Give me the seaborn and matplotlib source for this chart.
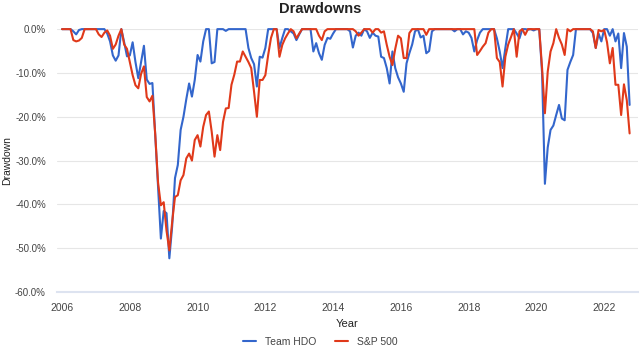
import numpy as np
import pandas as pd
import matplotlib
matplotlib.use("Agg")
import matplotlib.pyplot as plt
import seaborn as sns
from matplotlib.ticker import FuncFormatter

# monthly drawdowns (%), Jan 2006 .. Oct 2022
team_hdo = [
    0, 0, 0, 0, -0.5, -1.2, -0.2, 0, 0, 0, 0, 0,
    0, 0, 0, 0, -1.0, -2.8, -6.0, -7.2, -6.0, 0, -3.0, -6.2,
    -6.0, -3.0, -7.5, -11.2, -7.5, -3.8, -11.5, -12.5, -12.3, -24.0, -36.0, -47.8,
    -41.5, -42.0, -52.3, -45.0, -34.0, -31.0, -23.0, -20.0, -16.0, -12.4, -15.4, -11.6,
    -5.9, -7.4, -2.8, 0, 0, -7.8, -7.5, 0, 0, 0, -0.4, 0,
    0, 0, 0, 0, 0, 0, -4.3, -6.6, -8.0, -13.1, -6.3, -6.5,
    -4.3, 0, 0, 0, 0, -4.3, -2.0, 0, 0, -0.5, -1.0, -2.5,
    -1.2, 0, 0, 0, 0, -5.1, -3.2, -5.5, -7.0, -3.6, -2.0, -2.2,
    -1.0, 0, 0, 0, 0, 0, -0.5, -4.2, -1.5, -0.8, -1.5, 0,
    -0.5, -2.0, -0.8, -1.5, -1.7, -6.3, -6.6, -8.9, -12.4, -5.1, -8.9, -11.0,
    -12.4, -14.3, -7.8, -5.5, -3.5, -0.5, 0, -1.9, -1.5, -5.5, -5.0, -0.5,
    0, 0, 0, 0, 0, 0, 0, -0.5, 0, 0, -1.2, -0.5,
    -0.8, -2.0, -5.1, -2.5, -0.8, 0, 0, 0, 0, 0, -2.1, -5.1,
    -8.9, -4.3, 0, 0, 0, -1.0, -2.1, 0, 0, -0.1, 0, -0.3,
    0, 0, -10.0, -35.3, -27.0, -23.0, -22.0, -19.6, -17.3, -20.4, -20.8, -9.3,
    -7.5, -5.9, 0, 0, 0, 0, 0, 0, -0.9, -4.3, -1.0, -2.8,
    0, 0, -1.5, 0, -2.8, -1.0, -8.9, -0.9, -4.0, -17.3,
]
sp500 = [
    0, 0, 0, 0, -2.5, -2.8, -2.6, -2.0, 0, 0, 0, 0,
    0, -1.2, -1.8, -0.8, -0.3, -1.5, -4.5, -3.5, -1.5, 0, -3.5, -4.5,
    -7.5, -10.5, -12.8, -13.5, -10.2, -8.5, -15.5, -16.5, -15.2, -24.0, -35.0, -40.2,
    -39.5, -46.0, -50.5, -44.0, -38.3, -37.9, -34.5, -33.3, -29.5, -28.4, -30.0, -25.3,
    -24.2, -26.8, -22.3, -19.6, -18.8, -23.4, -29.1, -24.2, -27.6, -21.2, -18.1, -18.0,
    -12.7, -10.4, -7.4, -7.4, -5.1, -6.3, -7.5, -8.9, -14.3, -20.0, -11.6, -11.6,
    -10.5, -5.9, -2.0, 0, 0, -6.3, -3.6, -2.1, -1.0, 0, -0.5, -2.1,
    -1.0, 0, 0, 0, 0, 0, 0, -1.5, -2.5, -0.5, 0, 0,
    0, 0, 0, 0, 0, 0, 0, 0, -0.5, -1.5, -0.8, 0,
    0, 0, -0.8, 0, 0, -0.8, -0.5, -3.6, -6.3, -8.2, -4.5, -1.5,
    -2.1, -6.6, -6.6, -0.9, 0, 0, 0, 0, 0, -1.3, 0, 0,
    0, 0, 0, 0, 0, 0, 0, 0, 0, 0, 0, 0,
    0, 0, 0, -5.9, -5.0, -4.0, -3.2, -0.8, 0, 0, -6.6, -7.5,
    -13.1, -6.3, -3.5, -1.8, 0, -6.3, -0.5, 0, -1.3, 0, 0, 0,
    0, 0, -8.9, -19.2, -9.7, -5.1, -3.2, 0, -2.0, -3.5, -5.9, 0,
    -0.5, 0, 0, 0, 0, 0, 0, 0, -0.5, -4.3, -0.2, -0.5,
    -0.2, -3.0, -7.8, -4.3, -12.7, -12.7, -19.6, -12.6, -16.2, -23.8,
]
series_names = ["Team HDO", "S&P 500"]
colors = ["#3366cc", "#e0391a"]
year_ticks = list(range(2006, 2023, 2))
y_ticks = [0, -10, -20, -30, -40, -50, -60]

years = 2006 + np.arange(len(team_hdo)) / 12.0
df = pd.concat([
    pd.DataFrame({"Year": years, "Drawdown": team_hdo, "series": series_names[0]}),
    pd.DataFrame({"Year": years, "Drawdown": sp500, "series": series_names[1]}),
])

sns.set_style("white")
plt.rcParams["font.family"] = ["Liberation Sans", "DejaVu Sans"]

fig = plt.figure(figsize=(6.4, 3.51), dpi=100)
ax = fig.add_axes([0.089, 0.168, 0.908, 0.749])

sns.lineplot(data=df, x="Year", y="Drawdown", hue="series",
             palette=dict(zip(series_names, colors)), linewidth=1.5,
             ax=ax, legend=False, clip_on=False)

ax.set_xlim(2005.85, 2023.0)
ax.set_ylim(-60, 0)
ax.set_yticks(y_ticks)
ax.set_xticks(year_ticks)
ax.set_xticklabels([str(y) for y in year_ticks])
ax.yaxis.set_major_formatter(FuncFormatter(lambda v, p: f"{v:.1f}%" if v != 0 else "0.0%"))
ax.grid(axis="y", color="#e6e6e6", linewidth=0.8)
ax.set_axisbelow(True)
for s in ["top", "right", "left"]:
    ax.spines[s].set_visible(False)
ax.spines["bottom"].set_color("#dde3f0")
ax.spines["bottom"].set_linewidth(1.5)
ax.tick_params(axis="x", length=4, color="#dde3f0", labelsize=7.5, labelcolor="#444444", pad=4)
ax.tick_params(axis="y", length=0, labelsize=7, labelcolor="#444444", pad=8)
ax.set_xlabel("Year", fontsize=8, color="#222222", labelpad=4)
ax.set_ylabel("Drawdown", fontsize=7.5, color="#222222")
ax.yaxis.set_label_coords(-0.077, 0.5)

fig.suptitle("Drawdowns", fontsize=10.5, fontweight="bold", color="#222222", y=0.995)

handles = [plt.Line2D([], [], color=c, lw=1.5) for c in colors]
fig.legend(handles, series_names, loc="lower center", bbox_to_anchor=(0.5, -0.015),
           ncol=2, frameon=False, fontsize=7.5, handlelength=1.3, columnspacing=1.8,
           labelcolor="#444444")

fig.savefig("out.png", dpi=100)
